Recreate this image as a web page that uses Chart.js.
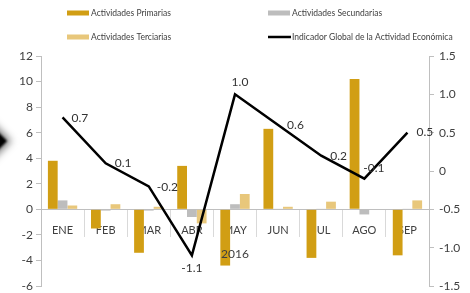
<!DOCTYPE html>
<html>
<head>
<meta charset="utf-8">
<script src="https://cdn.jsdelivr.net/npm/chart.js@4"></script>
<style>
  html, body { margin: 0; padding: 0; background: #fff; overflow: hidden; }
  #wrap { position: relative; width: 470px; height: 293px; }
  #deco {
    position: absolute; left: -29px; top: 126px; width: 30px; height: 30px;
    background: #000; transform: rotate(45deg);
    box-shadow: 0 0 7px 3px rgba(0,0,0,0.5);
    filter: blur(1px);
  }
</style>
</head>
<body>
<div id="wrap">
  <div id="deco"></div>
  <canvas id="chart" width="470" height="293"></canvas>
</div>
<script>
const months = ['ENE', 'FEB', 'MAR', 'ABR', 'MAY', 'JUN', 'JUL', 'AGO', 'SEP'];
const yearLabel = '2016';
const primarias = [3.8, -1.5, -3.4, 3.4, -4.4, 6.3, -3.8, 10.2, -3.6];
const secundarias = [0.7, -0.1, -0.1, -0.6, 0.4, 0.05, 0.05, -0.4, 0.05];
const terciarias = [0.3, 0.4, 0.2, -1.1, 1.2, 0.2, 0.6, 0.0, 0.7];
const igae = [0.7, 0.1, -0.2, -1.1, 1.0, 0.6, 0.2, -0.1, 0.5];
const seriesNames = ['Actividades Primarias', 'Actividades Secundarias', 'Actividades Terciarias', 'Indicador Global de la Actividad Económica'];

const FONT = "Lato, 'Open Sans', sans-serif";
const TXT = '#404040';

// line labels, legend and the year under the month labels
const extrasPlugin = {
  id: 'extras',
  afterDatasetsDraw(chart, args, opts) {
    const ctx = chart.ctx;
    ctx.save();
    // value labels on the line
    const meta = chart.getDatasetMeta(3);
    ctx.font = '12px ' + FONT;
    ctx.fillStyle = '#333';
    ctx.textBaseline = 'middle';
    meta.data.forEach((pt, i) => {
      const o = opts.labelOffsets[i];
      ctx.textAlign = o[2];
      ctx.fillText(igae[i].toFixed(1), pt.x + o[0], pt.y + o[1]);
    });
    // year
    const xs = chart.scales.x;
    ctx.textAlign = 'center';
    ctx.fillStyle = TXT;
    ctx.font = '12px ' + FONT;
    ctx.fillText(yearLabel, xs.getPixelForValue(4), 254);
    // legend
    ctx.font = '8.5px ' + FONT;
    ctx.textAlign = 'left';
    opts.legendPos.forEach((p, i) => {
      const ds = chart.data.datasets[i];
      if (ds.type === 'line') {
        ctx.strokeStyle = ds.borderColor;
        ctx.lineWidth = 2.5;
        ctx.beginPath();
        ctx.moveTo(p[0], p[1]);
        ctx.lineTo(p[0] + 23, p[1]);
        ctx.stroke();
      } else {
        ctx.fillStyle = ds.backgroundColor;
        ctx.fillRect(p[0], p[1] - 2.5, 22, 5);
      }
      ctx.fillStyle = TXT;
      ctx.fillText(ds.label, p[0] + 24, p[1]);
    });
    ctx.restore();
  }
};

const data = {
  labels: months,
  datasets: [
    { type: 'bar', label: seriesNames[0], data: primarias, backgroundColor: '#D19E14', yAxisID: 'y', order: 1 },
    { type: 'bar', label: seriesNames[1], data: secundarias, backgroundColor: '#BDBDBD', yAxisID: 'y', order: 1 },
    { type: 'bar', label: seriesNames[2], data: terciarias, backgroundColor: '#E8C77B', yAxisID: 'y', order: 1 },
    { type: 'line', label: seriesNames[3], data: igae, borderColor: '#000000', backgroundColor: '#000000',
      borderWidth: 2.5, pointRadius: 0, tension: 0, yAxisID: 'y1', order: 0 }
  ]
};

// fixed axis sizes so the plot area sits where the original has it
function fixVertical(s) {
  s.width = 41;
  s.paddingTop = 0;
  s.paddingBottom = 0;
}

const config = {
  type: 'bar',
  data: data,
  plugins: [extrasPlugin],
  options: {
    responsive: false,
    animation: false,
    layout: { padding: { top: 56, bottom: 7, left: 0, right: 0 } },
    datasets: { bar: { barPercentage: 1.0, categoryPercentage: 0.68 } },
    plugins: {
      legend: { display: false },
      tooltip: { enabled: false },
      extras: {
        labelOffsets: [[9, 1, 'left'], [9, 0, 'left'], [8, 1, 'left'], [0, 13, 'center'], [5, -12, 'center'],
                       [9, 0, 'left'], [9, 0, 'left'], [-1, -11, 'left'], [9, -1, 'left']],
        legendPos: [[67, 13], [268, 13], [67, 37], [268, 37]]
      }
    },
    scales: {
      x: {
        position: { y: 0 },
        afterFit(s) { s.height = 0; s.paddingLeft = 0; s.paddingRight = 0; s.paddingBottom = 0; s.paddingTop = 0; },
        grid: { offset: true, drawOnChartArea: false, drawTicks: true, tickLength: 27, color: '#D9D9D9' },
        border: { display: true, color: '#BFBFBF', width: 1 },
        ticks: { color: TXT, font: { family: FONT, size: 11 }, padding: -12, maxRotation: 0, autoSkip: false }
      },
      y: {
        position: 'left',
        min: -6, max: 12,
        afterFit: fixVertical,
        grid: { drawOnChartArea: false, tickLength: 5, color: '#BFBFBF' },
        border: { color: '#BFBFBF' },
        ticks: { stepSize: 2, color: TXT, font: { family: FONT, size: 12 }, padding: 3 }
      },
      y1: {
        position: 'right',
        min: -1.5, max: 1.5,
        afterFit: fixVertical,
        grid: { drawOnChartArea: false, tickLength: 5, color: '#BFBFBF' },
        border: { color: '#BFBFBF' },
        ticks: { stepSize: 0.5, color: TXT, font: { family: FONT, size: 12 }, padding: 5 }
      }
    }
  }
};

var igaeChart = new Chart(document.getElementById('chart'), config);
</script>
</body>
</html>
